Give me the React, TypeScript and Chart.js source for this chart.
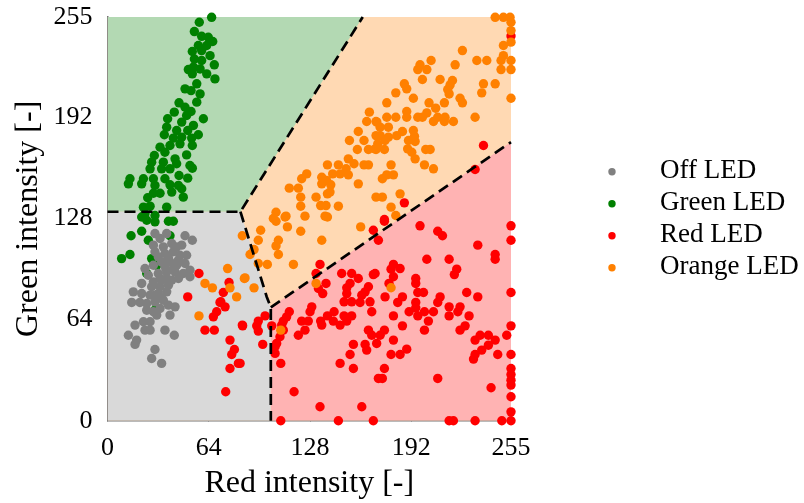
import React, { useEffect, useRef } from "react";
import { Chart, registerables } from "chart.js";

Chart.register(...registerables);

const FONT = '"Liberation Serif", "Times New Roman", serif';

const tickValues = [0, 64, 128, 192, 255];
const seriesLabels = ["Off LED", "Green LED", "Red LED", "Orange LED"];
const seriesColors = ["#808080", "#008000", "#ff0000", "#ff8000"];
const regionColors = ["#d9d9d9", "#b3d9b3", "#ffb3b3", "#ffd9b3"];

// decision regions (red, green intensity)
const offRegion = [[0, 132], [84, 132], [100.6, 78.3], [103.2, 71.6], [103.2, 0]];
const greenRegion = [[0, 132], [84, 132], [161.3, 255]];
const redRegion = [[103.2, 0], [103.2, 71.6], [255, 176]];
const orangeRegion = [[0, 255], [255, 255]];

// decision boundaries
const boundaryA = [[0, 132], [84, 132], [161.3, 255]];
const boundaryB = [[84, 132], [100.6, 78.3], [103.2, 71.6], [103.2, 0]];
const boundaryC = [[103.2, 71.6], [255, 176]];

const offPoints = [
  [30.0, 118.2], [33.2, 115.1], [37.4, 118.2], [49.0, 116.8], [53.6, 114.0], [29.0, 110.9], [35.3, 109.8],
  [40.6, 111.9], [43.7, 109.8], [46.9, 110.9], [30.0, 106.7], [36.3, 105.6], [41.6, 106.7], [45.8, 104.5],
  [50.0, 104.5], [23.7, 96.1], [29.0, 98.2], [34.2, 100.3], [39.5, 100.3], [44.8, 101.4], [49.0, 99.3],
  [25.8, 91.9], [32.1, 93.0], [37.4, 94.0], [42.7, 94.0], [47.9, 93.0], [52.1, 95.1], [52.1, 90.9],
  [29.0, 87.7], [34.2, 88.8], [40.6, 88.8], [44.8, 89.8], [21.6, 86.7], [27.9, 84.6], [33.2, 84.6],
  [38.5, 85.6], [16.3, 81.4], [21.6, 80.3], [26.9, 79.3], [32.1, 80.3], [37.4, 81.4], [15.3, 74.7],
  [20.5, 74.7], [24.8, 74.0], [30.0, 75.1], [35.3, 76.1], [24.8, 69.8], [29.0, 68.8], [33.2, 70.9],
  [38.5, 73.0], [42.7, 71.9], [31.1, 66.7], [39.5, 66.7], [22.7, 62.5], [26.9, 62.5], [17.4, 60.4],
  [23.7, 57.2], [26.9, 57.2], [36.3, 57.2], [13.2, 54.0], [42.2, 54.0], [18.4, 50.9], [17.4, 48.2],
  [30.0, 45.0], [27.9, 39.3], [34.2, 36.2], [32.1, 103.5], [38.5, 102.9], [43.7, 98.2], [36.3, 97.2],
  [41.6, 96.1], [33.2, 89.8], [37.4, 89.8], [34.2, 77.2], [30.0, 79.3]
];

const greenPoints = [
  [65.8, 254.8], [58.0, 251.7], [54.9, 245.8], [59.5, 242.8], [63.7, 242.2], [66.5, 239.5], [57.4, 237.0],
  [62.7, 237.0], [53.6, 233.2], [59.5, 233.8], [64.8, 230.6], [54.9, 228.5], [59.5, 227.5], [67.5, 224.8],
  [51.1, 221.8], [54.3, 223.3], [58.5, 222.2], [53.6, 219.1], [62.7, 219.1], [67.9, 215.9], [56.4, 212.8],
  [49.0, 209.6], [52.8, 208.5], [58.5, 206.4], [56.4, 201.2], [45.2, 200.8], [49.0, 198.0], [52.8, 195.3],
  [42.2, 194.9], [50.0, 192.8], [60.6, 190.7], [38.0, 190.7], [46.9, 188.6], [54.3, 186.5], [37.4, 185.4],
  [43.7, 183.3], [50.7, 183.3], [57.4, 180.6], [35.9, 180.6], [41.6, 178.5], [46.9, 179.1], [53.2, 178.5],
  [33.2, 172.8], [39.5, 173.8], [45.8, 174.9], [53.6, 173.8], [29.6, 167.5], [36.3, 169.6], [42.7, 165.4],
  [50.0, 167.9], [27.9, 163.3], [35.3, 163.3], [43.7, 162.3], [52.1, 161.2], [26.9, 159.1], [34.2, 159.1],
  [39.5, 159.1], [53.6, 159.5], [14.2, 152.8], [22.7, 152.8], [29.0, 152.8], [36.3, 152.8], [45.2, 154.9],
  [50.7, 153.2], [13.2, 149.6], [21.6, 149.6], [30.0, 148.6], [39.5, 149.0], [44.8, 148.6], [29.0, 143.7],
  [33.2, 143.7], [40.6, 144.4], [46.9, 146.5], [25.4, 140.8], [47.9, 141.2], [22.7, 134.9], [26.9, 135.5],
  [37.4, 134.9], [23.7, 130.7], [30.0, 129.6], [21.6, 128.7], [24.8, 126.6], [30.0, 125.6], [38.5, 126.0],
  [41.6, 126.0], [14.9, 116.8], [21.6, 119.7], [25.8, 114.0], [39.5, 116.8], [8.9, 102.4], [14.2, 105.0],
  [27.9, 102.4], [24.8, 93.0], [31.1, 98.2], [30.0, 69.8]
];

const redPoints = [
  [57.8, 93.0], [76.8, 87.3], [73.2, 81.0], [50.7, 78.2], [71.1, 74.7], [74.3, 71.9], [69.0, 68.8],
  [66.9, 65.6], [85.2, 60.4], [61.6, 57.2], [67.5, 57.2], [77.4, 50.9], [80.2, 45.0], [78.5, 41.8],
  [82.7, 36.2], [77.4, 33.0], [74.7, 18.3], [71.6, 75.1],
  [168.0, 120.3], [134.3, 98.7], [131.8, 93.0], [148.0, 93.0], [154.3, 93.0], [158.5, 89.8], [168.0, 92.3],
  [138.1, 86.7], [153.3, 86.7], [151.2, 83.9], [164.9, 84.6], [162.8, 81.4], [133.3, 83.5], [136.0, 80.3],
  [151.2, 80.3], [160.7, 79.3], [149.5, 75.1], [154.3, 75.1], [159.6, 74.7], [165.9, 75.1], [129.1, 71.9],
  [114.9, 68.8], [128.0, 68.8], [143.2, 68.8], [167.0, 68.8], [99.6, 66.2], [113.2, 65.6], [139.0, 66.2],
  [149.5, 66.2], [154.3, 66.2], [95.3, 62.9], [111.1, 62.9], [122.7, 62.9], [126.9, 62.9], [134.7, 62.9],
  [142.7, 62.9], [151.2, 62.9], [85.4, 59.9], [94.3, 59.9], [103.8, 59.9], [110.1, 60.4], [135.4, 60.4],
  [147.0, 60.4], [95.3, 56.6], [124.8, 57.2], [164.9, 57.2], [109.0, 53.0], [120.6, 54.0], [167.0, 54.0],
  [106.9, 48.8], [98.1, 48.2], [155.4, 48.2], [162.8, 48.2], [170.1, 48.8], [105.9, 42.5], [153.3, 41.8],
  [163.8, 44.6], [109.5, 36.2], [147.0, 36.2], [155.4, 33.0], [171.2, 26.7], [117.9, 18.3], [134.3, 8.8],
  [160.7, 8.8], [109.5, 0], [145.9, 0], [168.0, 0], [83.8, 36.2], [111.1, 57.2], [105.9, 46.7],
  [175.0, 126.0], [197.5, 123.1], [208.7, 119.7], [211.7, 116.8], [255, 123.1], [255, 114.0], [234.0, 110.9],
  [171.2, 114.0], [201.8, 102.0], [215.9, 102.0], [245.0, 105.0], [245.0, 102.0], [180.7, 98.7], [179.2, 95.7],
  [184.9, 96.1], [220.7, 95.7], [219.2, 92.3], [180.7, 90.9], [177.9, 86.7], [194.8, 89.8], [194.8, 86.7],
  [169.1, 93.0], [227.0, 81.0], [234.0, 78.2], [196.1, 81.0], [199.7, 81.0], [175.4, 78.2], [186.4, 78.2],
  [183.4, 74.7], [210.2, 78.2], [208.7, 74.7], [255, 81.0], [194.8, 74.7], [194.8, 71.3], [215.9, 71.9],
  [222.8, 71.9], [190.6, 68.8], [196.1, 66.2], [200.3, 68.8], [206.0, 68.8], [215.9, 66.2], [221.4, 68.8],
  [228.5, 66.2], [180.7, 66.2], [186.4, 59.9], [202.8, 62.9], [226.0, 59.9], [222.8, 57.2], [200.3, 57.2],
  [255, 59.9], [175.0, 57.2], [172.3, 54.0], [252.3, 54.0], [235.5, 54.0], [240.7, 54.0], [232.3, 50.9],
  [245.0, 50.9], [180.7, 50.9], [240.7, 47.7], [236.5, 44.6], [179.2, 41.8], [184.9, 41.8], [189.1, 45.2],
  [232.3, 41.8], [246.6, 41.8], [255, 41.8], [231.3, 38.9], [175.0, 33.0], [255, 33.0], [255, 29.2],
  [255, 25.6], [255, 22.5], [173.7, 26.7], [208.7, 26.7], [242.4, 20.8], [255, 15.1], [255, 5.6],
  [215.9, 0], [218.6, 0], [232.3, 0], [249.2, 0], [255, 0],
  [237.6, 173.8], [232.3, 158.7], [187.6, 137.6], [175.0, 127.1], [255, 243]
];

const orangePoints = [
  [85.2, 116.8], [75.9, 96.1], [61.6, 86.7], [66.3, 83.9], [77.4, 83.9], [81.6, 78.2], [57.8, 66.2], [86.5, 89.8],
  [104.8, 127.7], [112.2, 128.7], [139.0, 128.7], [106.5, 126.0], [113.7, 122.4], [96.8, 120.3], [122.1, 119.7],
  [160.0, 122.4], [95.3, 114.0], [108.0, 114.0], [135.4, 114.0], [106.5, 110.4], [92.6, 108.1], [90.1, 105.0],
  [108.0, 105.0], [101.0, 98.7], [95.3, 99.3], [117.5, 98.7], [86.9, 90.2], [92.6, 83.9], [131.8, 86.7],
  [109.5, 57.2], [179.2, 84.0],
  [245.0, 254.8], [250.2, 254.8], [254.4, 254.8], [255, 251.7], [255, 246.4], [250.2, 237.0], [255, 239.1],
  [224.3, 233.8], [250.2, 230.6], [248.7, 227.5], [255, 227.5], [255, 221.8], [248.7, 221.8], [204.5, 227.5],
  [197.5, 224.8], [201.8, 221.8], [196.1, 221.8], [219.7, 224.8], [233.4, 227.5], [239.7, 227.5], [199.0, 215.5],
  [210.2, 215.5], [187.6, 212.8], [189.1, 209.6], [218.0, 214.9], [216.5, 212.1], [215.0, 209.2], [215.9, 206.4],
  [237.6, 212.8], [245.0, 212.8], [236.5, 207.1], [182.2, 207.1], [193.3, 203.7], [222.8, 203.7], [224.3, 200.8],
  [255, 203.7], [176.5, 200.8], [203.2, 200.8], [212.9, 200.8], [207.4, 197.4], [189.1, 195.3], [189.1, 191.7],
  [176.5, 191.7], [182.2, 191.7], [196.1, 191.7], [199.0, 191.7], [201.8, 194.4], [208.7, 191.7], [206.0, 189.0],
  [213.3, 191.7], [212.9, 189.0], [218.6, 189.0], [232.3, 191.7], [170.2, 188.6], [172.3, 185.4], [177.5, 185.4],
  [172.3, 180.1], [177.5, 179.1], [182.8, 180.1], [186.4, 182.7], [193.3, 183.3], [194.0, 179.7], [175.4, 177.0],
  [190.2, 177.0], [194.4, 176.4], [170.8, 174.9], [169.1, 171.7], [175.0, 171.3], [189.7, 171.7], [192.3, 169.6],
  [201.1, 171.3], [203.9, 171.3], [194.4, 165.4], [200.3, 161.6], [206.0, 159.1], [179.2, 161.6], [176.5, 155.3],
  [180.7, 155.3], [173.7, 152.8], [184.9, 143.3], [173.7, 141.2], [179.2, 134.9], [182.2, 129.6],
  [165.5, 194.9], [163.8, 189.0], [169.7, 189.0], [158.5, 182.7], [169.7, 180.1], [152.9, 177.0], [162.1, 177.0],
  [157.9, 171.3], [164.9, 171.3], [169.7, 171.3], [152.2, 165.4], [155.8, 162.3], [139.0, 161.6], [145.9, 161.6],
  [150.8, 159.1], [162.1, 161.6], [164.9, 161.6], [125.9, 155.9], [122.7, 152.8], [135.4, 153.8], [138.5, 151.7],
  [142.3, 155.9], [147.0, 155.9], [152.2, 155.3], [135.4, 149.6], [141.1, 149.0], [158.5, 149.6], [114.9, 146.9],
  [120.6, 146.9], [140.6, 144.4], [139.0, 143.3], [122.1, 141.2], [131.8, 141.2], [169.7, 141.2], [134.7, 135.9],
  [138.1, 135.9], [122.1, 135.5], [145.9, 135.5], [106.5, 131.7], [112.8, 129.2], [124.8, 129.2], [137.5, 129.2]
];

const seriesPoints = [offPoints, greenPoints, redPoints, orangePoints];
const seriesOrder = [3, 4, 2, 1];

const toXY = (arr: number[][]) => arr.map(([x, y]) => ({ x, y }));

const legendPlugin = {
  id: "sideLegend",
  afterDraw(chart: any) {
    const ctx = chart.ctx;
    ctx.save();
    ctx.font = `27px ${FONT}`;
    ctx.textBaseline = "alphabetic";
    ctx.textAlign = "left";
    seriesLabels.forEach((label, i) => {
      const y = 171.7 + i * 32;
      ctx.fillStyle = seriesColors[i];
      ctx.beginPath();
      ctx.arc(612, y, 3.7, 0, Math.PI * 2);
      ctx.fill();
      ctx.fillStyle = "#000";
      ctx.fillText(label, 660, y + 6);
    });
    ctx.restore();
  },
};

export default function App() {
  const ref = useRef<HTMLCanvasElement | null>(null);

  useEffect(() => {
    if (!ref.current) return;

    const regionDs = (pts: number[][], color: string, fill: string, order: number) => ({
      type: "line",
      data: toXY(pts),
      backgroundColor: color,
      borderWidth: 0,
      borderColor: color,
      pointRadius: 0,
      fill,
      tension: 0,
      order,
    });
    const boundaryDs = (pts: number[][]) => ({
      type: "line",
      data: toXY(pts),
      borderColor: "#000",
      borderWidth: 2.7,
      borderDash: [11, 6],
      pointRadius: 0,
      fill: false,
      tension: 0,
      order: 0,
      clip: false,
    });

    const datasets: any[] = [
      boundaryDs(boundaryA),
      boundaryDs(boundaryB),
      boundaryDs(boundaryC),
      ...seriesLabels.map((label, i) => ({
        type: "scatter",
        label,
        data: toXY(seriesPoints[i]),
        backgroundColor: seriesColors[i],
        borderColor: seriesColors[i],
        pointRadius: 4.7,
        pointBorderWidth: 0,
        clip: false,
        order: seriesOrder[i],
      })),
      regionDs(offRegion, regionColors[0], "start", 11),
      regionDs(greenRegion, regionColors[1], "end", 11),
      regionDs(redRegion, regionColors[2], "start", 11),
      regionDs(orangeRegion, regionColors[3], "start", 12),
    ];

    const tickFont = { family: FONT, size: 26 };
    const titleFont = { family: FONT, size: 32, lineHeight: 1.2 };

    const chart = new Chart(ref.current, {
      type: "scatter",
      data: { datasets },
      plugins: [legendPlugin],
      options: {
        animation: false,
        responsive: false,
        devicePixelRatio: 1,
        events: [],
        layout: { padding: { left: 0, top: 17, right: 293, bottom: 0 } },
        plugins: { legend: { display: false }, tooltip: { enabled: false } },
        scales: {
          x: {
            type: "linear",
            min: 0,
            max: 255,
            afterBuildTicks: (s: any) => {
              s.ticks = tickValues.map((v) => ({ value: v }));
            },
            afterFit: (s: any) => {
              s.height = 82.3;
              s.paddingLeft = 0;
              s.paddingRight = 0;
              s.paddingTop = 0;
              s.paddingBottom = 0;
            },
            ticks: { font: tickFont, color: "#000", padding: 17, maxRotation: 0, autoSkip: false },
            grid: { drawOnChartArea: false, drawTicks: true, tickLength: -5, color: "#777", lineWidth: 1 },
            border: { display: true, color: "#777", width: 1.5 },
            title: { display: true, text: "Red intensity [-]", font: titleFont, color: "#000", padding: { top: 0, bottom: 0 } },
          },
          y: {
            type: "linear",
            min: 0,
            max: 255,
            afterBuildTicks: (s: any) => {
              s.ticks = tickValues.map((v) => ({ value: v }));
            },
            afterFit: (s: any) => {
              s.width = 107.5;
              s.paddingLeft = 0;
              s.paddingRight = 0;
              s.paddingTop = 0;
              s.paddingBottom = 0;
            },
            ticks: { font: tickFont, color: "#000", padding: 20, autoSkip: false },
            grid: { drawOnChartArea: false, drawTicks: true, tickLength: -5, color: "#777", lineWidth: 1 },
            border: { display: true, color: "#777", width: 1.5 },
            title: { display: true, text: "Green intensity [-]", font: titleFont, color: "#000", padding: { top: 9, bottom: 0 } },
          },
        },
      },
    } as any);

    return () => chart.destroy();
  }, []);

  return (
    <div style={{ position: "fixed", left: 0, top: 0, width: 804, height: 503, background: "#fff" }}>
      <canvas ref={ref} width={804} height={503} style={{ display: "block", width: 804, height: 503 }} />
    </div>
  );
}
